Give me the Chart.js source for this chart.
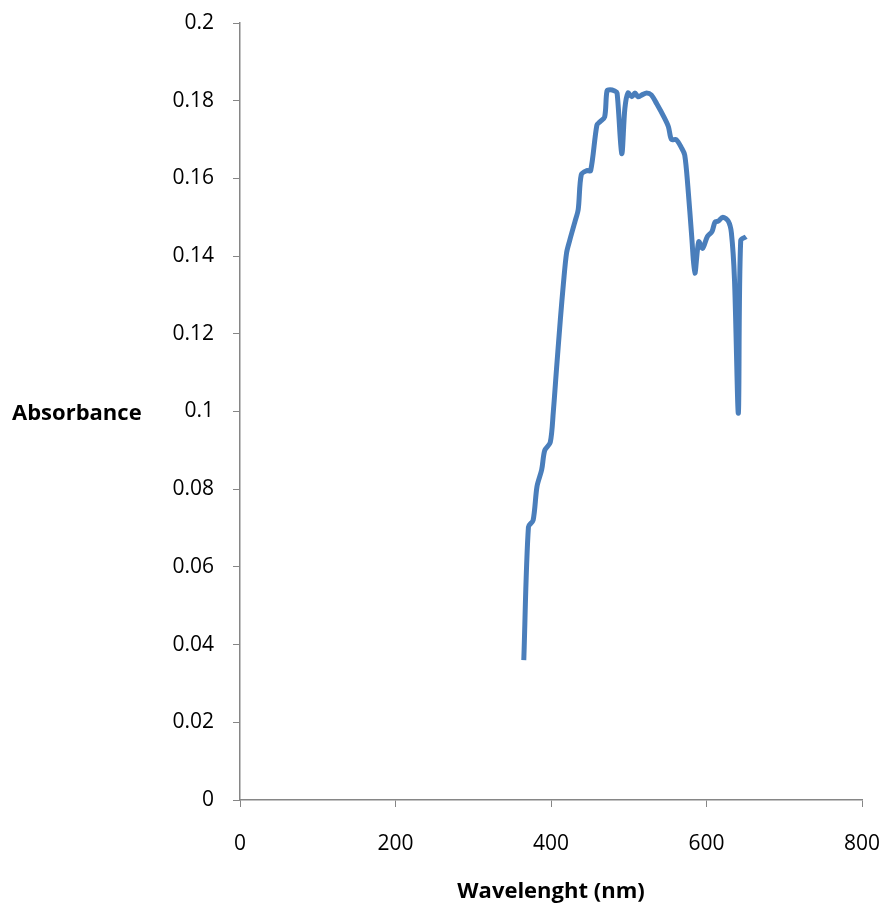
<!DOCTYPE html>
<html>
<head>
<meta charset="utf-8">
<script src="https://cdn.jsdelivr.net/npm/chart.js@4"></script>
<style>
html,body{margin:0;padding:0;background:#fff;}
#wrap{position:relative;width:890px;height:914px;}
</style>
</head>
<body>
<div id="wrap"><canvas id="c" width="890" height="914"></canvas></div>
<script>
const wavelength = [365,371,377,382,388,392,399,403,407,412,416,420,424,431,435,439,446,451,459,463,469,472,476,482,485,491,495,499,504,508,512,517,523,529,536,545,551,555,561,568,572,576,581,585,590,595,601,607,611,615,621,628,632,636,641,644,651];
const absorbance = [0.036,0.0703,0.072,0.0807,0.085,0.090,0.092,0.100,0.1107,0.1236,0.133,0.1408,0.144,0.149,0.152,0.161,0.162,0.162,0.1737,0.1746,0.1758,0.1825,0.1828,0.1825,0.182,0.1664,0.178,0.182,0.181,0.182,0.181,0.1815,0.182,0.1815,0.1792,0.1759,0.1733,0.170,0.170,0.1678,0.166,0.158,0.145,0.1356,0.1437,0.142,0.145,0.1463,0.1488,0.149,0.150,0.149,0.146,0.134,0.0996,0.144,0.145];
const xTicks = [0,200,400,600,800];
const yTicks = [0,0.02,0.04,0.06,0.08,0.1,0.12,0.14,0.16,0.18,0.2];
const xTitle = 'Wavelenght (nm)';
const yTitle = 'Absorbance';

const FONT = '"Open Sans", "Liberation Sans", sans-serif';
const axisGray = '#868686';

const titlesPlugin = {
  id: 'titles',
  afterDraw(chart) {
    const ctx = chart.ctx, a = chart.chartArea;
    ctx.save();
    ctx.fillStyle = '#000';
    ctx.font = 'bold 22px ' + FONT;
    ctx.textBaseline = 'middle';
    ctx.textAlign = 'left';
    ctx.fillText(yTitle, 12, (a.top + a.bottom) / 2 + 2);
    ctx.textAlign = 'center';
    ctx.fillText(xTitle, (a.left + a.right) / 2, 892);
    ctx.restore();
  }
};

new Chart(document.getElementById('c'), {
  type: 'line',
  data: {
    datasets: [{
      data: wavelength.map((x, i) => ({x: x, y: absorbance[i]})),
      borderColor: '#4A7EBB',
      borderWidth: 5,
      pointRadius: 0,
      tension: 0.3,
      fill: false
    }]
  },
  options: {
    responsive: false,
    animation: false,
    devicePixelRatio: 1,
    layout: {padding: {top: 23, right: 28, left: 0, bottom: 0}},
    plugins: {legend: {display: false}, tooltip: {enabled: false}},
    scales: {
      x: {
        type: 'linear',
        min: 0, max: 800,
        afterBuildTicks(s) { s.ticks = xTicks.map(v => ({value: v})); },
        afterFit(s) { s.height = 114; s.paddingLeft = 0; s.paddingRight = 0; },
        grid: {drawOnChartArea: false, drawTicks: true, tickLength: 7, color: axisGray, tickColor: axisGray},
        border: {color: axisGray, width: 1.5},
        ticks: {color: '#000', font: {family: FONT, size: 21}, padding: 24, maxRotation: 0,
                callback: v => String(v)}
      },
      y: {
        type: 'linear',
        min: 0, max: 0.2,
        afterBuildTicks(s) { s.ticks = yTicks.map(v => ({value: v})); },
        afterFit(s) { s.width = 240; s.paddingTop = 0; s.paddingBottom = 0; },
        grid: {drawOnChartArea: false, drawTicks: true, tickLength: 7, color: axisGray, tickColor: axisGray},
        border: {color: axisGray, width: 1.5},
        ticks: {color: '#000', font: {family: FONT, size: 21}, padding: 19,
                callback: v => String(Number(v.toFixed(2)))}
      }
    }
  },
  plugins: [titlesPlugin]
});
</script>
</body>
</html>
